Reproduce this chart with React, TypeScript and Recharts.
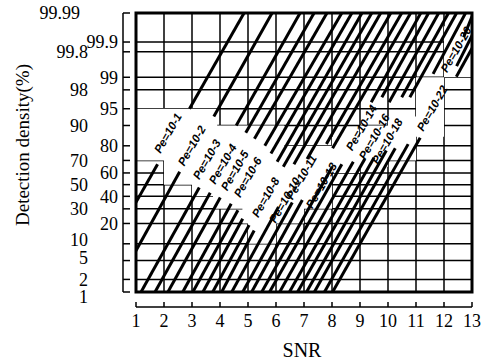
import React from "react";
import {
  ComposedChart,
  Line,
  Area,
  Scatter,
  XAxis,
  YAxis,
  CartesianGrid,
  ReferenceArea,
} from "recharts";

// x axis: SNR
const snrTicks = [1, 2, 3, 4, 5, 6, 7, 8, 9, 10, 11, 12, 13];

// y axis: detection probability (%) on probability paper
const pdTicks = [1, 2, 5, 10, 20, 30, 40, 50, 60, 70, 80, 90, 95, 98, 99, 99.8, 99.9, 99.99];
const pdTicksInner = [20, 40, 60, 80, 95, 99, 99.9];

// Pe curves 10^-1 .. 10^-22, each drawn as a lower and an upper piece
const peBottomSnr = [-0.82, 0.18, 1.18, 1.68, 2.14, 2.67, 3.03, 3.39, 3.74, 4.06, 4.42, 4.81, 5.13, 5.49, 5.77, 6.13, 6.48, 6.77, 7.09, 7.37, 7.73, 8.02];
const gapLowSnr = [1.77, 2.56, 3.26, 3.65, 4.01, 4.4, 4.64, 4.81, 5.04, 5.22, 6.09, 6.58, 6.94, 8.01, 8.35, 8.76, 9.17, 9.5, 9.94, 10.26, 10.72, 11.15];
const gapLowPd = [67, 61, 47.5, 43, 39, 34, 29, 23, 19, 16, 31.5, 35, 37, 65, 67, 69, 71, 72, 77, 78.5, 81, 84.5];
const gapHighSnr = [2.91, 3.78, 4.58, 4.92, 5.23, 5.6, 5.82, 6.04, 6.26, 6.64, 7.11, 7.8, 8.02, 9.4, 9.78, 10.04, 10.49, 10.78, 11.61, 12.7, 12.45, 12.44];
const gapHighPd = [95, 93, 90, 87, 84, 80, 75, 69, 65, 67, 71, 81, 78.5, 96.3, 97.1, 96.3, 97.1, 97.1, 99.18, 99.93, 99.49, 99.03];
const peTopSnr = [4.86, 5.86, 6.86, 7.36, 7.82, 8.35, 8.71, 9.07, 9.42, 9.74, 10.1, 10.49, 10.81, 11.17, 11.45, 11.81, 12.16, 12.45, 12.77, 13.05, 13.41, 13.7];

// curve labels
const labelText = ["Pe=10-1", "Pe=10-2", "Pe=10-3", "Pe=10-4", "Pe=10-5", "Pe=10-6", "Pe=10-8", "Pe=10-10", "Pe=10-11", "Pe=10-13", "Pe=10-14", "Pe=10-16", "Pe=10-18", "Pe=10-20", "Pe=10-22"];
const labelSnr = [2.14, 2.99, 3.53, 4.1, 4.53, 4.99, 5.63, 6.31, 6.91, 7.62, 9.05, 9.51, 9.97, 12.43, 11.58];
const labelPd = [86.8, 80, 70.8, 67.3, 62, 56.4, 39.2, 36.9, 56.4, 49.2, 89.1, 85, 82.7, 99.83, 95.1];

// blank strip where the labels sit (no grid)
const bandSnr = [1, 2, 2, 3, 3, 3.75, 3.75, 3.9, 3.9, 4.8, 4.8, 5, 5, 6, 6, 6.3, 6.3, 7, 7, 8, 8, 9, 9, 10, 10, 11, 11, 12, 12, 13];
const bandLow = [70, 70, 50, 50, 40, 40, 30, 30, 30, 30, 20, 20, 10, 10, 20, 20, 20, 20, 30, 30, 60, 60, 65, 65, 70, 70, 85, 85, 99, 99];
const bandHigh = [95, 95, 95, 95, 95, 95, 95, 95, 90, 90, 90, 90, 90, 90, 90, 90, 80, 80, 80, 80, 85, 85, 90, 90, 93, 93, 99, 99, 99.97, 99.97];

// inverse normal cdf (probability paper scale), pct in percent
function probit(pct: number) {
  const p = pct / 100;
  const a = [-39.69683028665376, 220.9460984245205, -275.9285104469687, 138.357751867269, -30.66479806614716, 2.506628277459239];
  const b = [-54.47609879822406, 161.5858368580409, -155.6989798598866, 66.80131188771972, -13.28068155288572];
  const c = [-0.007784894002430293, -0.3223964580411365, -2.400758277161838, -2.549732539343734, 4.374664141464968, 2.938163982698783];
  const d = [0.007784695709041462, 0.3224671290700398, 2.445134137142996, 3.754408661907416];
  const plow = 0.02425;
  if (p < plow) {
    const q = Math.sqrt(-2 * Math.log(p));
    return (((((c[0] * q + c[1]) * q + c[2]) * q + c[3]) * q + c[4]) * q + c[5]) / ((((d[0] * q + d[1]) * q + d[2]) * q + d[3]) * q + 1);
  }
  if (p <= 1 - plow) {
    const q = p - 0.5;
    const r = q * q;
    return ((((((a[0] * r + a[1]) * r + a[2]) * r + a[3]) * r + a[4]) * r + a[5]) * q) / (((((b[0] * r + b[1]) * r + b[2]) * r + b[3]) * r + b[4]) * r + 1);
  }
  const q = Math.sqrt(-2 * Math.log(1 - p));
  return -(((((c[0] * q + c[1]) * q + c[2]) * q + c[3]) * q + c[4]) * q + c[5]) / ((((d[0] * q + d[1]) * q + d[2]) * q + d[3]) * q + 1);
}

const Y_MIN = probit(1);
const Y_MAX = probit(99.99);

const bandData = bandSnr.map((s, i) => ({ snr: s, lo: probit(bandLow[i]), hi: probit(bandHigh[i]) }));

const lowerPieces = peBottomSnr.map((s, i) => [
  { snr: s, y: Y_MIN },
  { snr: gapLowSnr[i], y: probit(gapLowPd[i]) },
]);
const upperPieces = peTopSnr.map((s, i) => [
  { snr: gapHighSnr[i], y: probit(gapHighPd[i]) },
  { snr: s, y: Y_MAX },
]);

const labelData = labelText.map((t, i) => ({ snr: labelSnr[i], y: probit(labelPd[i]), text: t }));

const serif = "'Liberation Serif', 'Times New Roman', serif";

// small nudges so the crowded bottom labels don't collide
const yLabelShift: Record<number, number> = { 1: 5, 5: -3, 10: -4 };

const XTick = (props: any) => {
  const { x, y, payload } = props;
  return (
    <g>
      <line x1={x} x2={x} y1={y + 10} y2={y + 15} stroke="#000" strokeWidth={1.5} />
      <text x={x} y={y + 29} dy="0.35em" textAnchor="middle" fontSize={18} fontFamily={serif} fill="#000">
        {payload.value}
      </text>
    </g>
  );
};

const YTick = (props: any) => {
  const { x, y, payload } = props;
  const v = pdTicks.find((t) => Math.abs(probit(t) - payload.value) < 1e-6) as number;
  const inner = pdTicksInner.includes(v);
  const tx = inner ? x - 18 : v === 99.99 ? x - 56 : x - 48;
  return (
    <g>
      <line x1={x - 13} x2={x - 6} y1={y} y2={y} stroke="#000" strokeWidth={1.5} />
      <text x={tx} y={y + (yLabelShift[v] || 0)} dy="0.35em" textAnchor="end" fontSize={18} fontFamily={serif} fill="#000">
        {v}
      </text>
    </g>
  );
};

const PeLabel = (props: any) => {
  const { cx, cy, payload } = props;
  return (
    <text
      x={cx}
      y={cy}
      transform={`rotate(-60 ${cx} ${cy})`}
      textAnchor="middle"
      dominantBaseline="central"
      fontSize={11.5}
      fontWeight="bold"
      fontStyle="italic"
      fontFamily="'Liberation Sans', Arial, sans-serif"
      fill="#000"
    >
      {payload.text}
    </text>
  );
};

export default function App() {
  return (
    <div style={{ position: "absolute", left: 0, top: 0, width: 493, height: 364, background: "#fff" }}>
      <ComposedChart width={493} height={364} data={bandData} margin={{ top: 13, right: 21, left: 0, bottom: 0 }}>
        <CartesianGrid stroke="#000" strokeWidth={1.5} />
        <XAxis
          dataKey="snr"
          type="number"
          domain={[1, 13]}
          ticks={snrTicks}
          allowDataOverflow
          height={72}
          tickSize={0}
          tickMargin={0}
          tickLine={false}
          axisLine={{ stroke: "#000", strokeWidth: 1.5, transform: "translate(0 15)" }}
          tick={<XTick />}
          interval={0}
        />
        <YAxis
          dataKey="y"
          type="number"
          domain={[Y_MIN, Y_MAX]}
          ticks={pdTicks.map(probit)}
          allowDataOverflow
          width={136}
          tickSize={0}
          tickMargin={0}
          tickLine={false}
          axisLine={{ stroke: "#000", strokeWidth: 1.5, transform: "translate(-13 0)" }}
          tick={<YTick />}
          interval={0}
        />
        <Area
          dataKey={(d: any) => [d.lo, d.hi]}
          type="linear"
          stroke="none"
          fill="#fff"
          fillOpacity={1}
          isAnimationActive={false}
          activeDot={false}
        />
        {lowerPieces.map((pts, i) => (
          <Line
            key={"lo" + i}
            data={pts}
            dataKey="y"
            type="linear"
            stroke="#000"
            strokeWidth={3}
            dot={false}
            activeDot={false}
            isAnimationActive={false}
          />
        ))}
        {upperPieces.map((pts, i) => (
          <Line
            key={"up" + i}
            data={pts}
            dataKey="y"
            type="linear"
            stroke="#000"
            strokeWidth={3}
            dot={false}
            activeDot={false}
            isAnimationActive={false}
          />
        ))}
        <Scatter data={labelData} dataKey="y" shape={<PeLabel />} isAnimationActive={false} />
        <ReferenceArea x1={1} x2={13} y1={Y_MIN} y2={Y_MAX} fill="none" stroke="#000" strokeWidth={3} />
      </ComposedChart>
      <div
        style={{
          position: "absolute",
          left: 302,
          top: 350,
          transform: "translate(-50%, -50%)",
          fontFamily: serif,
          fontSize: 20,
          lineHeight: 1,
          whiteSpace: "nowrap",
        }}
      >
        SNR
      </div>
      <div
        style={{
          position: "absolute",
          left: 22,
          top: 145,
          transform: "translate(-50%, -50%) rotate(-90deg)",
          fontFamily: serif,
          fontSize: 19,
          lineHeight: 1,
          whiteSpace: "nowrap",
        }}
      >
        Detection density(%)
      </div>
    </div>
  );
}
